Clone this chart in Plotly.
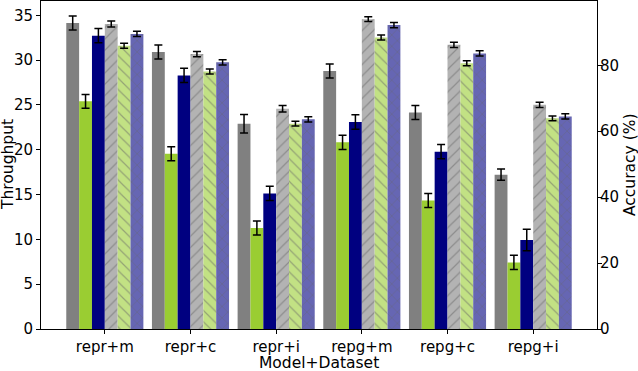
import plotly.graph_objects as go

# categories on the x axis
groups = ["repr+m", "repr+c", "repr+i", "repg+m", "repg+c", "repg+i"]

# throughput (left axis), solid bars
tp_gray = [34.15, 30.9, 22.9, 28.8, 24.17, 17.22]
tp_gray_err = [0.78, 0.78, 1.04, 0.78, 0.78, 0.63]
tp_green = [25.4, 19.56, 11.27, 20.83, 14.35, 7.43]
tp_green_err = [0.78, 0.78, 0.78, 0.8, 0.78, 0.8]
tp_navy = [32.73, 28.3, 15.13, 23.1, 19.79, 9.93]
tp_navy_err = [0.8, 0.8, 0.8, 0.8, 0.8, 1.19]

# accuracy (right axis), hatched bars
acc_gray = [92.5, 83.4, 66.8, 94.0, 86.2, 68.0]
acc_gray_err = [0.9, 0.8, 1.0, 0.7, 0.8, 0.8]
acc_green = [85.9, 78.1, 62.3, 88.4, 80.6, 63.9]
acc_green_err = [0.75, 0.75, 0.7, 0.75, 0.75, 0.75]
acc_blue = [89.5, 80.9, 63.6, 92.2, 83.6, 64.5]
acc_blue_err = [0.8, 0.8, 0.8, 0.8, 0.8, 0.8]

font = "DejaVu Sans"
bw = 0.15

fig = go.Figure()

solid = [
    (tp_gray, tp_gray_err, "#808080"),
    (tp_green, tp_green_err, "#9acd32"),
    (tp_navy, tp_navy_err, "#000080"),
]
hatched = [
    (acc_gray, acc_gray_err, "#b3b3b3", "/"),
    (acc_green, acc_green_err, "#c2e184", "\\"),
    (acc_blue, acc_blue_err, "#6666b3", "x"),
]

k = 0
for vals, errs, col in solid:
    fig.add_trace(go.Bar(
        x=groups, y=vals, width=bw, offset=-0.45 + k * bw,
        marker=dict(color=col, line=dict(width=0)),
        error_y=dict(type="data", array=errs, color="black", thickness=1.5, width=4),
        yaxis="y", showlegend=False))
    k += 1

for vals, errs, col, shp in hatched:
    fig.add_trace(go.Bar(
        x=groups, y=vals, width=bw, offset=-0.45 + k * bw,
        marker=dict(color=col, line=dict(width=0),
                    pattern=dict(shape=shp, fgcolor="#666666", bgcolor=col,
                                 size=8, solidity=0.15, fillmode="overlay")),
        error_y=dict(type="data", array=errs, color="black", thickness=1.5, width=4),
        yaxis="y2", showlegend=False))
    k += 1

axis_common = dict(showline=True, linecolor="black", linewidth=1,
                   ticks="outside", ticklen=4, tickcolor="black",
                   showgrid=False, zeroline=False, automargin=False,
                   tickfont=dict(family=font, size=15, color="black"))

fig.update_layout(
    width=638, height=371,
    margin=dict(l=41, r=41, t=1, b=42),
    plot_bgcolor="white", paper_bgcolor="white",
    barmode="overlay",
    font=dict(family=font, color="black"),
    xaxis=dict(axis_common, range=[-0.745, 5.745], mirror=True),
    yaxis=dict(axis_common, range=[0, 36.6], dtick=5),
    yaxis2=dict(axis_common, range=[0, 99.5], dtick=20, overlaying="y", side="right",
                anchor="x", ticklabelstandoff=-5),
)

title_font = dict(family=font, size=15.5, color="black")
fig.add_annotation(text="Model+Dataset", xref="paper", yref="paper", x=0.5, y=0,
                   yshift=-34, yanchor="middle", showarrow=False, font=title_font)
fig.add_annotation(text="Throughput", xref="paper", yref="paper", x=0, y=0.5,
                   xshift=-33, xanchor="center", textangle=-90, showarrow=False,
                   font=title_font)
fig.add_annotation(text="Accuracy (%)", xref="paper", yref="paper", x=1, y=0.5,
                   xshift=33, xanchor="center", textangle=-90, showarrow=False,
                   font=title_font)

# drop the default page margin so the figure sits at the window's corner
fig.write_html("out.html", config={"displayModeBar": False},
               post_script="document.body.style.margin='0';"
                           "document.body.style.overflow='hidden';")
